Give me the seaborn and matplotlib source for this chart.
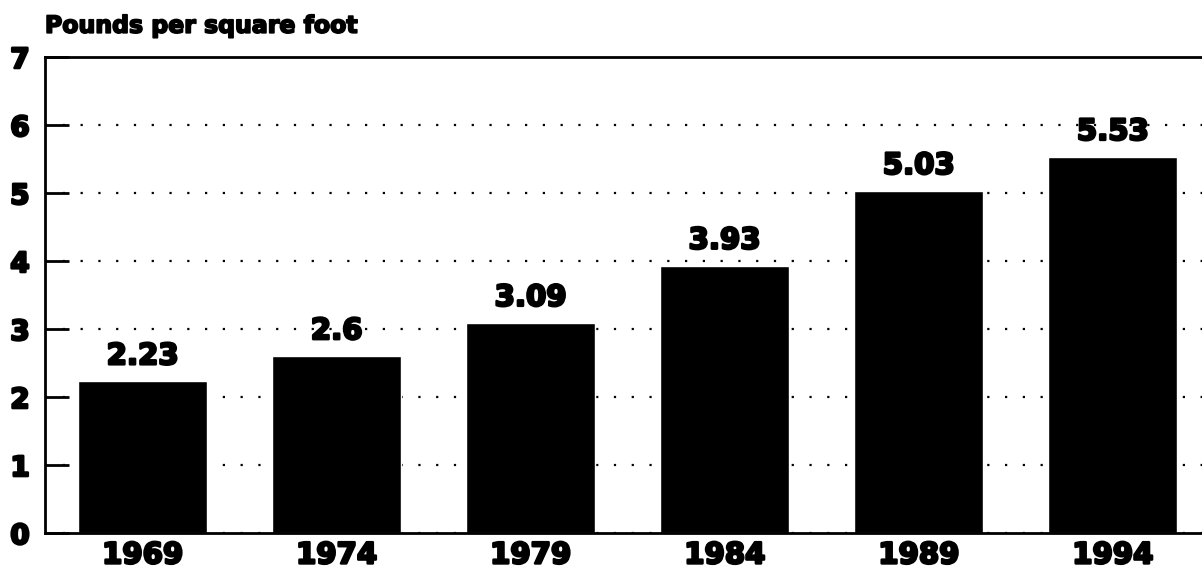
import matplotlib
matplotlib.use("Agg")
import matplotlib.pyplot as plt
import matplotlib.patheffects as pe
import seaborn as sns
import pandas as pd

# data
years = ["1969", "1974", "1979", "1984", "1989", "1994"]
pounds = [2.23, 2.6, 3.09, 3.93, 5.03, 5.53]
yticks = [0, 1, 2, 3, 4, 5, 6, 7]

sns.set_style("white")
plt.rcParams["font.family"] = ["DejaVu Sans"]
plt.rcParams["font.weight"] = "bold"
plt.rcParams["text.color"] = "black"
plt.rcParams["xtick.labelcolor"] = "black"
plt.rcParams["ytick.labelcolor"] = "black"

# heavy look like the original typeface
heavy = [pe.withStroke(linewidth=1.8, foreground="black")]

df = pd.DataFrame({"year": years, "pounds": pounds})

fig = plt.figure(figsize=(12.02, 5.72), dpi=100)
ax = fig.add_axes([0.0374, 0.068, 0.9626, 0.8323])

sns.barplot(data=df, x="year", y="pounds", order=years, color="black",
            saturation=1, width=0.665, ax=ax)

ax.set_xlim(-0.503, 5.46)
ax.set_ylim(0, 7)
ax.set_yticks(yticks)

# dotted gridlines
ax.set_axisbelow(True)
ax.yaxis.grid(True, color="black", linestyle=(0, (1, 7)), linewidth=1.6)
ax.xaxis.grid(False)

for side in ["left", "top", "bottom"]:
    ax.spines[side].set_visible(True)
    ax.spines[side].set_color("black")
    ax.spines[side].set_linewidth(2)
ax.spines["right"].set_visible(False)

ax.tick_params(axis="y", direction="in", length=17, width=2, color="black",
               labelcolor="black", labelsize=20, pad=11, left=True)
ax.tick_params(axis="x", length=0, labelcolor="black", labelsize=21, pad=6)
for lbl in ax.get_xticklabels() + ax.get_yticklabels():
    lbl.set_fontweight("bold")
    lbl.set_color("black")
    lbl.set_path_effects(heavy)

texts = ax.bar_label(ax.containers[0], fmt="%g", padding=8, fontsize=21,
                     fontweight="bold", color="black")
for t in texts:
    t.set_path_effects(heavy)

ax.set_xlabel("")
ax.set_ylabel("")
fig.text(0.0374, 0.955, "Pounds per square foot", fontsize=17,
         fontweight="bold", ha="left", va="center", color="black",
         path_effects=[pe.withStroke(linewidth=1.3, foreground="black")])

fig.savefig("out.png", dpi=100)
